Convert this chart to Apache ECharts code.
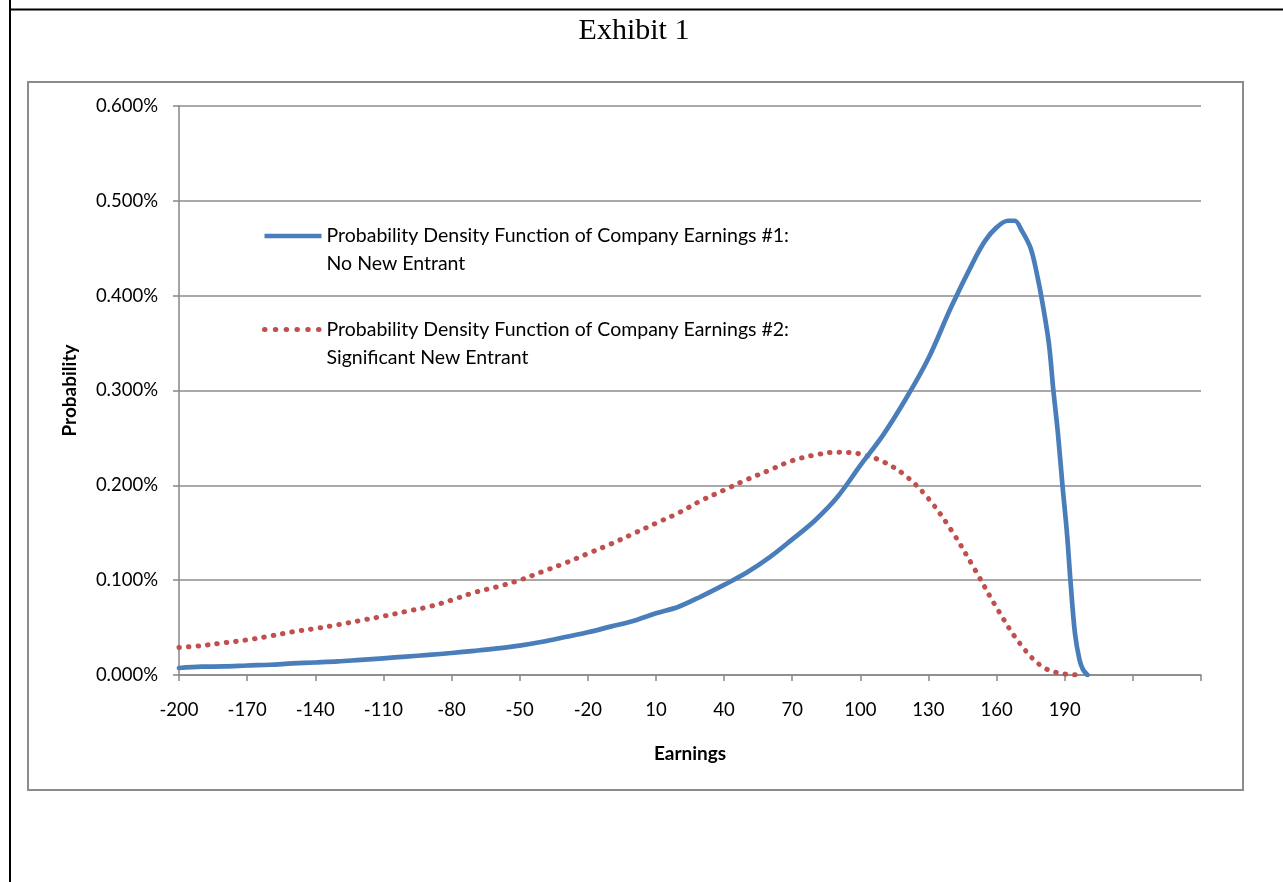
<!DOCTYPE html>
<html><head><meta charset="utf-8">
<script src="https://cdn.jsdelivr.net/npm/echarts@6.0.0/dist/echarts.min.js"></script>
<style>html,body{margin:0;padding:0;background:#fff}#c{width:1283px;height:882px}</style>
</head><body><div id="c"></div>
<script>
const titleText = 'Exhibit 1';
const xAxisTitle = 'Earnings';
const yAxisTitle = 'Probability';
const seriesNames = [
  'Probability Density Function of Company Earnings #1:\nNo New Entrant',
  'Probability Density Function of Company Earnings #2:\nSignificant New Entrant'
];
const xTickLabels = [-200, -170, -140, -110, -80, -50, -20, 10, 40, 70, 100, 130, 160, 190];
const yTickLabels = [0, 0.1, 0.2, 0.3, 0.4, 0.5, 0.6];

// Series 1: No New Entrant (values in %)
const earnings1 = [-200, -190, -180, -170, -160, -150, -140, -130, -120, -110, -100, -90, -80, -70, -60, -50, -40, -30, -20, -10, 0, 10, 20, 30, 40, 50, 60, 70, 80, 90, 100, 110, 120, 130, 140, 150, 155, 160, 165, 168, 171, 175, 178, 180, 183, 185, 187, 189, 191, 192.5, 194.5, 196.5, 198, 200];
const pdf1 = [0.0074, 0.0088, 0.0090, 0.0100, 0.0108, 0.0122, 0.0132, 0.0143, 0.0160, 0.0176, 0.0194, 0.0212, 0.0232, 0.0255, 0.0280, 0.0310, 0.0350, 0.0400, 0.0450, 0.0510, 0.0570, 0.0650, 0.0720, 0.0830, 0.0950, 0.1080, 0.1240, 0.1430, 0.1630, 0.1880, 0.2210, 0.2530, 0.2910, 0.3340, 0.3880, 0.4370, 0.4580, 0.4720, 0.4790, 0.4790, 0.4690, 0.4500, 0.4200, 0.3950, 0.3500, 0.3000, 0.2550, 0.2000, 0.1490, 0.1000, 0.0440, 0.0160, 0.0060, 0.0000];

// Series 2: Significant New Entrant (values in %)
const earnings2 = [-200, -190, -180, -170, -160, -150, -140, -130, -120, -110, -100, -90, -80, -70, -60, -50, -40, -30, -20, -10, 0, 10, 20, 30, 40, 50, 60, 70, 80, 90, 100, 110, 120, 130, 140, 150, 160, 170, 180, 190, 198];
const pdf2 = [0.029, 0.031, 0.034, 0.037, 0.041, 0.0455, 0.049, 0.053, 0.0575, 0.062, 0.067, 0.072, 0.079, 0.087, 0.093, 0.100, 0.109, 0.118, 0.128, 0.138, 0.149, 0.160, 0.171, 0.184, 0.195, 0.206, 0.216, 0.226, 0.232, 0.235, 0.233, 0.225, 0.210, 0.186, 0.153, 0.113, 0.071, 0.034, 0.009, 0.001, 0.000];

const FONT = 'Lato';
const BLUE = '#4a7ebb';
const RED = '#c0504d';
const chart = echarts.init(document.getElementById('c'), null, {renderer: 'canvas'});
chart.setOption({
  animation: false,
  backgroundColor: '#ffffff',
  graphic: [
    {type: 'line', shape: {x1: 10, y1: 0, x2: 10, y2: 882}, style: {stroke: '#000', lineWidth: 2}, z: 0},
    {type: 'line', shape: {x1: 9, y1: 9.5, x2: 1283, y2: 9.5}, style: {stroke: '#000', lineWidth: 2}, z: 0},
    {type: 'rect', shape: {x: 28, y: 82, width: 1215, height: 708}, style: {fill: 'none', stroke: '#8c8c8c', lineWidth: 2}, z: 0},
    {type: 'text', x: 634, y: 31, style: {text: titleText, font: '30px "Liberation Serif"', fill: '#000', align: 'center', verticalAlign: 'middle'}}
  ],
  grid: {left: 179, top: 106, right: 82, bottom: 207, containLabel: false},
  legend: {
    orient: 'vertical', left: 262, top: 194, padding: 0,
    itemWidth: 57, itemHeight: 2, itemGap: 9.5,
    formatter: n => ' \n' + n,
    itemStyle: {opacity: 0, borderWidth: 0},
    textStyle: {fontFamily: FONT, fontSize: 19.5, lineHeight: 28, color: '#000'},
    data: [
      {name: seriesNames[0], lineStyle: {color: BLUE, width: 4.5, cap: 'butt', type: 'solid'}},
      {name: seriesNames[1], lineStyle: {color: RED, width: 5, type: [0.5, 10.3], cap: 'round'}}
    ]
  },
  xAxis: {
    type: 'value', min: -200, max: 250, interval: 30,
    name: xAxisTitle, nameLocation: 'middle', nameGap: 69,
    nameTextStyle: {fontFamily: FONT, fontSize: 19, fontWeight: 'bold', color: '#000'},
    axisLine: {onZero: false, lineStyle: {color: '#868686', width: 1.5}},
    axisTick: {show: true, length: 6, lineStyle: {color: '#868686', width: 1.5}},
    splitLine: {show: false},
    axisLabel: {
      margin: 26, fontFamily: FONT, fontSize: 18.5, color: '#000',
      formatter: v => xTickLabels.indexOf(v) >= 0 ? String(v) : ''
    }
  },
  yAxis: {
    type: 'value', min: 0, max: 0.6, interval: 0.1,
    name: yAxisTitle, nameLocation: 'middle', nameGap: 100,
    nameTextStyle: {fontFamily: FONT, fontSize: 19, fontWeight: 'bold', color: '#000'},
    axisLine: {show: true, onZero: false, lineStyle: {color: '#868686', width: 1.5}},
    axisTick: {show: true, length: 6, lineStyle: {color: '#868686', width: 1.5}},
    splitLine: {show: true, lineStyle: {color: '#8c8c8c', width: 1.5}},
    axisLabel: {
      margin: 21, fontFamily: FONT, fontSize: 18.5, color: '#000',
      formatter: v => v.toFixed(3) + '%'
    }
  },
  series: [
    {
      name: seriesNames[0], type: 'line', symbol: 'none', showSymbol: false,
      smooth: 0.35,
      data: earnings1.map((x, i) => [x, pdf1[i]]),
      lineStyle: {color: BLUE, width: 4.7, cap: 'round', join: 'round'},
      itemStyle: {color: BLUE}, z: 3
    },
    {
      name: seriesNames[1], type: 'line', symbol: 'none', showSymbol: false,
      smooth: 0.35,
      data: earnings2.map((x, i) => [x, pdf2[i]]),
      lineStyle: {color: RED, width: 5, type: [0.5, 9], cap: 'round'},
      itemStyle: {color: RED}, z: 2
    }
  ]
});
</script></body></html>
